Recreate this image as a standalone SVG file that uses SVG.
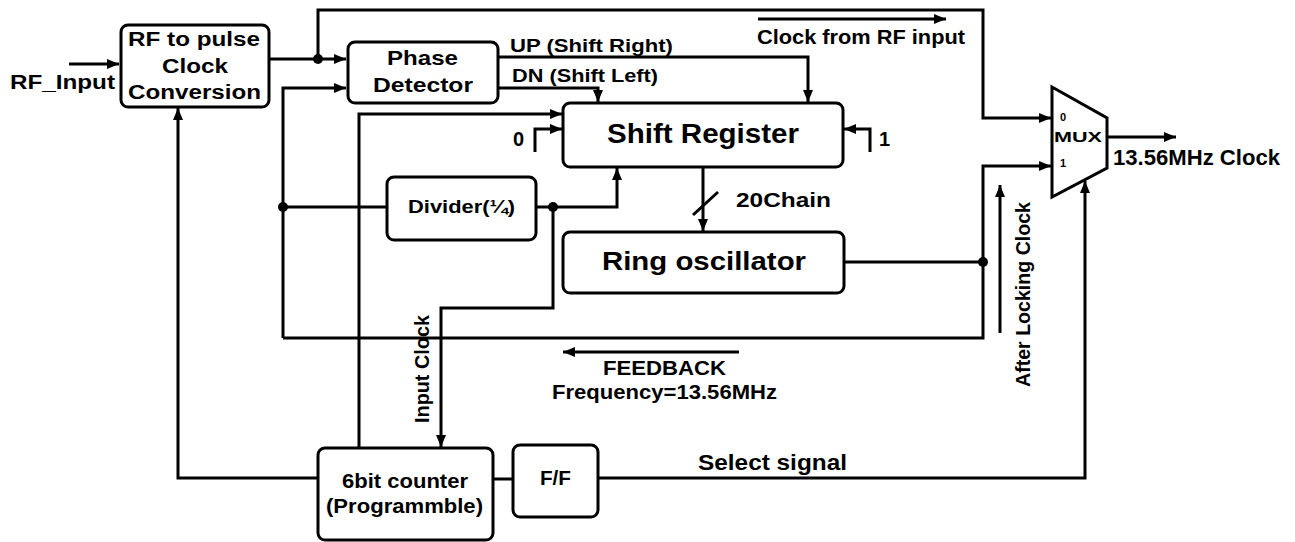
<svg xmlns="http://www.w3.org/2000/svg" width="1295" height="542" viewBox="0 0 1295 542">
<style>
.box{fill:#fff;stroke:#000;stroke-width:3}
.w{fill:none;stroke:#000;stroke-width:3}
.a{fill:none;stroke:#000;stroke-width:3;marker-end:url(#ah)}
.t{font-family:"Liberation Sans",Arial,sans-serif;font-weight:bold;fill:#000}
.dot{fill:#000}
</style>
<defs>
<marker id="ah" markerUnits="userSpaceOnUse" markerWidth="13" markerHeight="11" refX="12" refY="5" orient="auto">
<path d="M0,0 L12,5 L0,10 z" fill="#000"/>
</marker>
</defs>
<rect width="1295" height="542" fill="#fff"/>
<g id="connectors">
<path class="a" d="M69,64 L119,64"/>
<path class="a" d="M269,59 L346,59"/>
<path class="a" d="M318,59 L318,10 L983,10 L983,118 L1051,118"/>
<path class="a" d="M758,19 L946,19"/>
<path class="a" d="M283,338 L283,88 L346,88"/>
<path class="w" d="M283,207 L387,207"/>
<path class="a" d="M283,338 L983,338 L983,166 L1051,166"/>
<path class="w" d="M844,262 L983,262"/>
<path class="a" d="M498,57 L808,57 L808,102"/>
<path class="a" d="M498,88 L598,88 L598,102"/>
<path class="a" d="M359,448 L359,114 L562,114"/>
<path class="a" d="M535,152 L535,129 L562,129"/>
<path class="a" d="M870,152 L870,129 L844,129"/>
<path class="a" d="M536,207 L617,207 L617,168"/>
<path class="a" d="M553,207 L553,308 L441,308 L441,447"/>
<path class="a" d="M703,167 L703,231"/>
<path class="w" d="M693,215 L718,192"/>
<path class="a" d="M318,478 L178,478 L178,108"/>
<path class="w" d="M493,479 L513,479"/>
<path class="a" d="M598,478 L1085,478 L1085,181"/>
<path class="a" d="M1000,333 L1000,185"/>
<path class="a" d="M739,352 L563,352"/>
<path class="a" d="M1107,137 L1176,137"/>
<circle class="dot" cx="318" cy="59" r="5"/>
<circle class="dot" cx="283" cy="207" r="5"/>
<circle class="dot" cx="553" cy="207" r="5"/>
<circle class="dot" cx="983" cy="262" r="5"/>
</g>
<g id="rf">
<rect class="box" x="121" y="25" width="148" height="82" rx="7"/>
<text class="t" x="128" y="46" font-size="20" textLength="132" lengthAdjust="spacingAndGlyphs">RF to pulse</text>
<text class="t" x="162" y="73" font-size="20" textLength="66" lengthAdjust="spacingAndGlyphs">Clock</text>
<text class="t" x="128" y="99" font-size="20" textLength="133" lengthAdjust="spacingAndGlyphs">Conversion</text>
</g>
<g id="pd">
<rect class="box" x="348" y="42" width="150" height="61" rx="7"/>
<text class="t" x="387" y="65" font-size="21" textLength="71" lengthAdjust="spacingAndGlyphs">Phase</text>
<text class="t" x="373" y="92" font-size="21" textLength="100" lengthAdjust="spacingAndGlyphs">Detector</text>
</g>
<g id="sr">
<rect class="box" x="563" y="103" width="280" height="64" rx="7"/>
<text class="t" x="607" y="143" font-size="27" textLength="192" lengthAdjust="spacingAndGlyphs">Shift Register</text>
</g>
<g id="divider">
<rect class="box" x="387" y="177" width="149" height="63" rx="7"/>
<text class="t" x="408" y="213" font-size="18" textLength="107" lengthAdjust="spacingAndGlyphs">Divider(¼)</text>
</g>
<g id="ring">
<rect class="box" x="563" y="232" width="281" height="61" rx="7"/>
<text class="t" x="602" y="270" font-size="26" textLength="204" lengthAdjust="spacingAndGlyphs">Ring oscillator</text>
</g>
<g id="counter">
<rect class="box" x="318" y="448" width="175" height="92" rx="7"/>
<text class="t" x="342" y="488" font-size="20" textLength="126" lengthAdjust="spacingAndGlyphs">6bit counter</text>
<text class="t" x="326" y="513" font-size="20" textLength="157" lengthAdjust="spacingAndGlyphs">(Programmble)</text>
</g>
<g id="ff">
<rect class="box" x="513" y="445" width="85" height="72" rx="7"/>
<text class="t" x="540" y="485" font-size="20" textLength="31" lengthAdjust="spacingAndGlyphs">F/F</text>
</g>
<g id="mux">
<polygon class="box" points="1052,87 1107,118 1107,168 1052,197"/>
<text class="t" x="1060" y="121" font-size="11">0</text>
<text class="t" x="1054" y="142" font-size="15" textLength="48" lengthAdjust="spacingAndGlyphs">MUX</text>
<text class="t" x="1060" y="167" font-size="11">1</text>
</g>
<g id="labels">
<text class="t" x="10" y="89" font-size="21" textLength="105" lengthAdjust="spacingAndGlyphs">RF_Input</text>
<text class="t" x="510" y="52" font-size="18" textLength="163" lengthAdjust="spacingAndGlyphs">UP (Shift Right)</text>
<text class="t" x="512" y="82" font-size="18" textLength="146" lengthAdjust="spacingAndGlyphs">DN (Shift Left)</text>
<text class="t" x="757" y="44" font-size="20" textLength="208" lengthAdjust="spacingAndGlyphs">Clock from RF input</text>
<text class="t" x="513" y="146" font-size="20">0</text>
<text class="t" x="879" y="146" font-size="20">1</text>
<text class="t" x="736" y="207" font-size="21" textLength="95" lengthAdjust="spacingAndGlyphs">20Chain</text>
<text class="t" x="1113" y="165" font-size="22" textLength="167" lengthAdjust="spacingAndGlyphs">13.56MHz Clock</text>
<text class="t" transform="translate(1030,387) rotate(-90)" x="0" y="0" font-size="20" textLength="185" lengthAdjust="spacingAndGlyphs">After Locking Clock</text>
<text class="t" transform="translate(429,423) rotate(-90)" x="0" y="0" font-size="20" textLength="108" lengthAdjust="spacingAndGlyphs">Input Clock</text>
<text class="t" x="603" y="375" font-size="21" textLength="123" lengthAdjust="spacingAndGlyphs">FEEDBACK</text>
<text class="t" x="552" y="399" font-size="20" textLength="225" lengthAdjust="spacingAndGlyphs">Frequency=13.56MHz</text>
<text class="t" x="698" y="470" font-size="22" textLength="149" lengthAdjust="spacingAndGlyphs">Select signal</text>
</g>
</svg>
